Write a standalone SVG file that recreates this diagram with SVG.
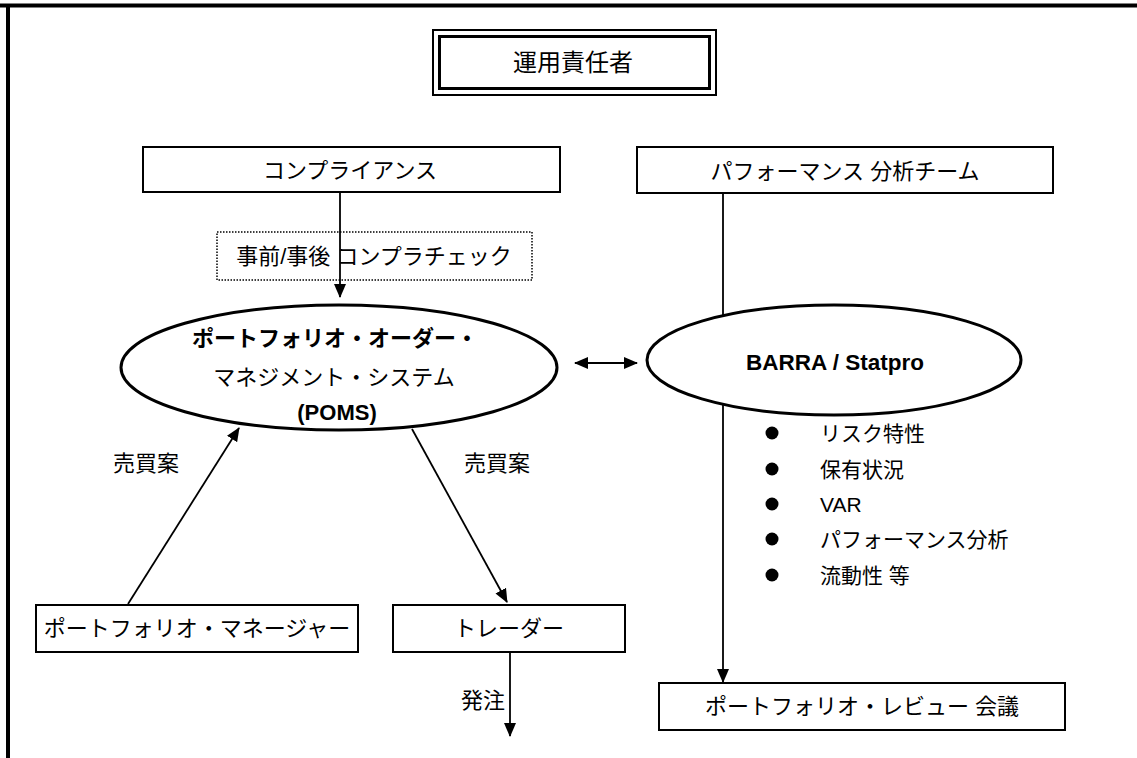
<svg xmlns="http://www.w3.org/2000/svg" width="1137" height="758" viewBox="0 0 1137 758">
<style>
text{font-family:"Liberation Sans","Noto Sans CJK JP",sans-serif;fill:#000;dominant-baseline:central}
.c{text-anchor:middle}
.t{font-size:22px}
.b{font-weight:bold}
.box{fill:#fff;stroke:#000;stroke-width:2}
.ell{fill:#fff;stroke:#000;stroke-width:3}
.ln{stroke:#000;stroke-width:1.8;fill:none}
</style>
<defs>
<marker id="ah" markerUnits="userSpaceOnUse" markerWidth="14" markerHeight="14" refX="13" refY="6" orient="auto-start-reverse" viewBox="0 0 14 12">
<path d="M0,0 L14,6 L0,12 Z" fill="#000"/>
</marker>
</defs>
<rect width="1137" height="758" fill="#fff"/>
<g id="frame">
<line x1="0" y1="5.5" x2="1137" y2="5.5" stroke="#000" stroke-width="4"/>
<line x1="8" y1="4" x2="8" y2="758" stroke="#000" stroke-width="4"/>
</g>
<g id="connectors">
<line class="ln" x1="340" y1="193" x2="340" y2="297" marker-end="url(#ah)"/>
<line class="ln" x1="723" y1="193" x2="723" y2="682" marker-end="url(#ah)"/>
<line class="ln" x1="575" y1="363" x2="637" y2="363" stroke-width="2.5" marker-start="url(#ah)" marker-end="url(#ah)"/>
<line class="ln" x1="128" y1="604" x2="239" y2="428" marker-end="url(#ah)"/>
<line class="ln" x1="412" y1="429" x2="507" y2="602" marker-end="url(#ah)"/>
<line class="ln" x1="510" y1="652" x2="510" y2="736" marker-end="url(#ah)"/>
<text class="t" x="146" y="463" text-anchor="middle">売買案</text>
<text class="t" x="497" y="463" text-anchor="middle">売買案</text>
<text class="t" x="483" y="700" text-anchor="middle">発注</text>
</g>
<g id="n-unyo">
<rect x="433" y="30" width="283" height="65" fill="#fff" stroke="#000" stroke-width="2"/>
<rect x="439.5" y="36.5" width="270" height="52" fill="#fff" stroke="#000" stroke-width="3"/>
<text class="c t" x="573" y="62" style="font-size:24px">運用責任者</text>
</g>
<g id="n-compliance">
<rect class="box" x="143" y="147" width="417" height="45"/>
<text class="c t" x="350" y="170">コンプライアンス</text>
</g>
<g id="n-check">
<rect x="217" y="232" width="315" height="48" fill="none" stroke="#000" stroke-width="1.5" stroke-dasharray="1.5,1.5"/>
<text class="c t" x="374" y="256">事前/事後 コンプラチェック</text>
</g>
<g id="n-perf">
<rect class="box" x="637" y="147" width="416" height="46"/>
<text class="c t" x="845" y="171">パフォーマンス 分析チーム</text>
</g>
<g id="n-poms">
<ellipse class="ell" cx="339" cy="367.5" rx="218" ry="62.5"/>
<text class="c t b" x="335" y="338">ポートフォリオ・オーダー・</text>
<text class="c t" x="334" y="377">マネジメント・システム</text>
<text class="c t b" x="337" y="412">(POMS)</text>
</g>
<g id="n-barra">
<ellipse class="ell" cx="834" cy="360" rx="187" ry="55"/>
<text class="c b" x="835" y="362" style="font-size:22.5px">BARRA / Statpro</text>
</g>
<g id="n-list">
<circle cx="772" cy="433" r="6.5"/>
<circle cx="772" cy="469" r="6.5"/>
<circle cx="772" cy="504" r="6.5"/>
<circle cx="772" cy="539" r="6.5"/>
<circle cx="772" cy="575" r="6.5"/>
<text class="t" x="820" y="433" style="font-size:21px">リスク特性</text>
<text class="t" x="820" y="469" style="font-size:21px">保有状況</text>
<text class="t" x="820" y="504" style="font-size:21px">VAR</text>
<text class="t" x="820" y="539" style="font-size:21px">パフォーマンス分析</text>
<text class="t" x="820" y="575" style="font-size:21px">流動性 等</text>
</g>
<g id="n-pm">
<rect class="box" x="36" y="605" width="322" height="47"/>
<text class="c t" x="197" y="628">ポートフォリオ・マネージャー</text>
</g>
<g id="n-trader">
<rect class="box" x="393" y="605" width="232" height="47"/>
<text class="c t" x="509" y="628">トレーダー</text>
</g>
<g id="n-review">
<rect class="box" x="659" y="683" width="406" height="47"/>
<text class="c t" x="862" y="706">ポートフォリオ・レビュー 会議</text>
</g>
</svg>
